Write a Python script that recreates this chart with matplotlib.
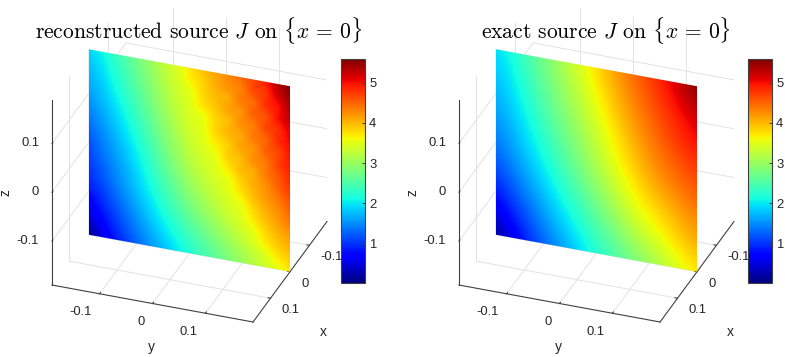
import numpy as np
import matplotlib
matplotlib.use('Agg')
import matplotlib.pyplot as plt
from matplotlib.cm import ScalarMappable
from matplotlib.colors import Normalize
from matplotlib.transforms import Affine2D, TransformedPath
from matplotlib.path import Path
from mpl_toolkits.mplot3d import proj3d

plt.rcParams['font.family'] = ['Liberation Sans', 'DejaVu Sans']
plt.rcParams['mathtext.fontset'] = 'cm'
plt.rcParams['axes.unicode_minus'] = False

LIM = 0.19
ticks = [-0.1, 0, 0.1]
tick_labels = ['-0.1', '0', '0.1']
cbar_ticks = [1, 2, 3, 4, 5]
cbar_range = (0.03, 5.59)

# rows: z from bottom to top of the face, columns: y from left to right
J_exact = [
    [0.05, 0.68, 1.11, 1.51, 1.86, 2.20, 2.51, 2.83, 3.13, 3.44, 3.75],
    [0.42, 0.92, 1.31, 1.70, 2.05, 2.41, 2.75, 3.11, 3.40, 3.69, 3.96],
    [0.73, 1.13, 1.51, 1.89, 2.24, 2.61, 2.99, 3.37, 3.64, 3.91, 4.17],
    [0.97, 1.35, 1.71, 2.08, 2.44, 2.82, 3.20, 3.59, 3.84, 4.09, 4.34],
    [1.18, 1.54, 1.88, 2.25, 2.63, 3.01, 3.41, 3.76, 4.06, 4.30, 4.53],
    [1.35, 1.69, 2.03, 2.41, 2.80, 3.19, 3.57, 3.92, 4.25, 4.47, 4.68],
    [1.49, 1.81, 2.16, 2.56, 2.93, 3.31, 3.70, 4.06, 4.38, 4.63, 4.85],
    [1.61, 1.93, 2.29, 2.69, 3.05, 3.43, 3.82, 4.19, 4.50, 4.78, 5.02],
    [1.72, 2.03, 2.42, 2.82, 3.18, 3.56, 3.96, 4.31, 4.61, 4.90, 5.18],
    [1.82, 2.12, 2.53, 2.92, 3.29, 3.67, 4.07, 4.42, 4.72, 5.05, 5.40],
    [1.92, 2.22, 2.64, 3.02, 3.39, 3.79, 4.20, 4.52, 4.84, 5.20, 5.60],
]
J_recon = [
    [0.08, 0.50, 0.82, 1.08, 1.34, 1.58, 1.78, 2.00, 2.22, 2.41, 2.60, 2.80, 2.98, 3.18, 3.36, 3.52, 3.72],
    [0.32, 0.66, 0.94, 1.20, 1.44, 1.68, 1.91, 2.12, 2.32, 2.52, 2.71, 2.91, 3.10, 3.28, 3.46, 3.72, 3.88],
    [0.52, 0.80, 1.06, 1.32, 1.56, 1.80, 2.03, 2.25, 2.47, 2.67, 2.87, 3.06, 3.25, 3.43, 3.68, 3.90, 4.02],
    [0.68, 0.93, 1.18, 1.43, 1.68, 1.92, 2.16, 2.40, 2.62, 2.82, 3.02, 3.20, 3.38, 3.54, 3.82, 4.02, 4.18],
    [0.87, 1.04, 1.29, 1.53, 1.78, 2.03, 2.28, 2.52, 2.76, 2.97, 3.16, 3.33, 3.46, 3.72, 3.96, 4.16, 4.35],
    [0.96, 1.17, 1.40, 1.64, 1.88, 2.13, 2.40, 2.65, 2.89, 3.08, 3.27, 3.42, 3.54, 3.84, 4.08, 4.24, 4.50],
    [1.04, 1.24, 1.47, 1.70, 1.95, 2.22, 2.50, 2.76, 3.00, 3.19, 3.35, 3.49, 3.72, 3.98, 4.18, 4.36, 4.62],
    [1.10, 1.33, 1.55, 1.78, 2.04, 2.32, 2.61, 2.88, 3.12, 3.28, 3.43, 3.54, 3.84, 4.06, 4.22, 4.52, 4.76],
    [1.17, 1.40, 1.62, 1.86, 2.12, 2.40, 2.70, 2.97, 3.20, 3.37, 3.49, 3.72, 3.98, 4.04, 4.38, 4.56, 4.86],
    [1.27, 1.49, 1.71, 1.95, 2.22, 2.50, 2.79, 3.05, 3.28, 3.43, 3.54, 3.88, 3.96, 4.26, 4.34, 4.72, 4.94],
    [1.38, 1.58, 1.80, 2.05, 2.31, 2.59, 2.88, 3.12, 3.35, 3.48, 3.70, 3.86, 4.14, 4.18, 4.54, 4.64, 5.00],
    [1.48, 1.67, 1.89, 2.14, 2.40, 2.68, 2.95, 3.20, 3.40, 3.52, 3.82, 4.02, 4.08, 4.38, 4.46, 4.84, 5.04],
    [1.58, 1.76, 1.98, 2.24, 2.50, 2.76, 3.03, 3.26, 3.44, 3.54, 3.84, 3.96, 4.26, 4.32, 4.68, 4.80, 5.14],
    [1.66, 1.83, 2.08, 2.33, 2.58, 2.84, 3.10, 3.31, 3.48, 3.76, 3.90, 4.14, 4.18, 4.54, 4.58, 5.00, 5.26],
    [1.74, 1.91, 2.16, 2.40, 2.66, 2.91, 3.16, 3.37, 3.50, 3.82, 4.00, 4.06, 4.38, 4.42, 4.82, 4.96, 5.40],
    [1.82, 1.99, 2.24, 2.48, 2.72, 2.97, 3.22, 3.41, 3.68, 3.84, 4.06, 4.24, 4.30, 4.66, 4.76, 5.20, 5.50],
    [1.90, 2.07, 2.32, 2.55, 2.79, 3.03, 3.27, 3.44, 3.72, 3.94, 4.10, 4.26, 4.46, 4.66, 4.90, 5.34, 5.59],
]

W, H = 785, 357
TXT = '#262626'
LINE = '#404040'


def label(offset, px, py, s, **kw):
    fig.text((px + offset) / W, 1 - py / H, s, color=TXT, zorder=-1, **kw)


def panel(offset, data, title, title_cx, interp):
    ax = fig.add_axes([0.05 + offset / W, 0.1, 0.4, 0.8], projection='3d', proj_type='ortho')
    ax.view_init(elev=30, azim=20.2)
    ax.set_box_aspect((1, 1, 1))
    ax.set_xlim(-LIM, LIM)
    ax.set_ylim(-LIM, LIM)
    ax.set_zlim(-LIM, LIM)
    ax.patch.set_alpha(0)
    for axis in (ax.xaxis, ax.yaxis, ax.zaxis):
        axis.set_ticks(ticks)
        axis.set_ticklabels(['', '', ''])
        axis.pane.fill = False
        axis.pane.set_edgecolor('none')
        axis.line.set_color(LINE)
        axis.line.set_linewidth(0.8)
        axis._axinfo['grid']['color'] = '#e2e2e2'
        axis._axinfo['grid']['linewidth'] = 0.7
        axis._axinfo['tick']['inward_factor'] = 0.0
        axis._axinfo['tick']['outward_factor'] = 0.15
        axis.set_tick_params(color=LINE, width=0.8, pad=0)

    # fit the axes box so that the cube lands on its reference place
    x0, x1, cy_t = 52 + offset, 327 + offset, H - 160.5
    for _ in range(3):
        ax.apply_aspect()
        M = ax.get_proj()
        cx, cy, _z = proj3d.proj_transform(
            np.array([LIM, -LIM, 0.0]), np.array([-LIM, LIM, 0.0]),
            np.array([-LIM, -LIM, 0.0]), M)
        px = ax.transData.transform(np.column_stack([cx, cy]))
        s = (x1 - x0) / abs(px[1, 0] - px[0, 0])
        pos = ax.get_position(original=True)
        new_w, new_h = pos.width * s, pos.height * s
        ccx = pos.x0 + pos.width / 2 + ((x0 + x1) / 2 - px[2, 0]) / W
        ccy = pos.y0 + pos.height / 2 + (cy_t - px[2, 1]) / H
        ax.set_position([ccx - new_w / 2, ccy - new_h / 2, new_w, new_h])
    ax.apply_aspect()
    M = ax.get_proj()

    def to_px(x, y, z):
        a, b, _ = proj3d.proj_transform(np.array([x], float), np.array([y], float), np.array([z], float), M)
        p = ax.transData.transform(np.column_stack([a, b]))[0]
        return p[0] - offset, H - p[1]

    # tick labels and axis labels, placed from the projected tick positions
    for t, s in zip(ticks, tick_labels):
        px, py = to_px(LIM, -LIM, t)
        label(offset, px - 13, py - 0.5, s, ha='right', va='center', fontsize=9.4)
        px, py = to_px(LIM, t, -LIM)
        label(offset, px - 8, py + 18.5, s, ha='right', va='center', fontsize=9.4)
        px, py = to_px(t, LIM, -LIM)
        label(offset, px + 11.3, py + 11.8, s, ha='left', va='center', fontsize=9.4)
    label(offset, 323, 331.5, 'x', ha='center', va='center', fontsize=10)
    label(offset, 151, 347, 'y', ha='center', va='center', fontsize=10)
    label(offset, 5.5, 192.5, 'z', ha='center', va='center', rotation=90, fontsize=10)

    # surface on x = 0 with interpolated shading: one affine map of the face
    arr = np.array(data)
    ny, nz = arr.shape[1], arr.shape[0]
    sx, sy, _ = proj3d.proj_transform(np.array([0.0, 0.0, 0.0]),
                                      np.array([-LIM, LIM, -LIM]),
                                      np.array([-LIM, -LIM, LIM]), M)
    aff = Affine2D.from_values(sx[1] - sx[0], sy[1] - sy[0], sx[2] - sx[0], sy[2] - sy[0], sx[0], sy[0])
    over = fig.add_axes([0, 0, 1, 1], frameon=False, label=f'surface{offset}')
    over.set_axis_off()
    hu, hv = 0.5 / (ny - 1), 0.5 / (nz - 1)
    im = over.imshow(arr, origin='lower', extent=(-hu, 1 + hu, -hv, 1 + hv), aspect='auto',
                     cmap='jet', vmin=cbar_range[0], vmax=cbar_range[1],
                     interpolation=interp, interpolation_stage='data',
                     transform=aff + ax.transData)
    square = Path([(0, 0), (1, 0), (1, 1), (0, 1), (0, 0)], closed=True)
    im.set_clip_path(TransformedPath(square, aff + ax.transData))

    # colorbar
    cax = fig.add_axes([(341 + offset) / W, 1 - 282.5 / H, 24 / W, 223.5 / H])
    cb = fig.colorbar(ScalarMappable(Normalize(*cbar_range), cmap='jet'), cax=cax)
    cb.set_ticks(cbar_ticks)
    cb.ax.tick_params(direction='in', length=2.5, width=0.7, color=LINE,
                      labelsize=9.4, labelcolor=TXT, pad=3)
    cb.outline.set_edgecolor(LINE)
    cb.outline.set_linewidth(0.8)

    fig.text(title_cx / W, 1 - 31 / H, title, ha='center', va='center', fontsize=15.5,
             family='cmr10', color='black')


fig = plt.figure(figsize=(W / 100, H / 100), dpi=100)
panel(0, J_recon, r'reconstructed source $J$ on $\{x\,=\,0\}$', 198.5, 'bilinear')
panel(407, J_exact, r'exact source $J$ on $\{x\,=\,0\}$', 606, 'bicubic')
fig.savefig('out.png', dpi=100)
